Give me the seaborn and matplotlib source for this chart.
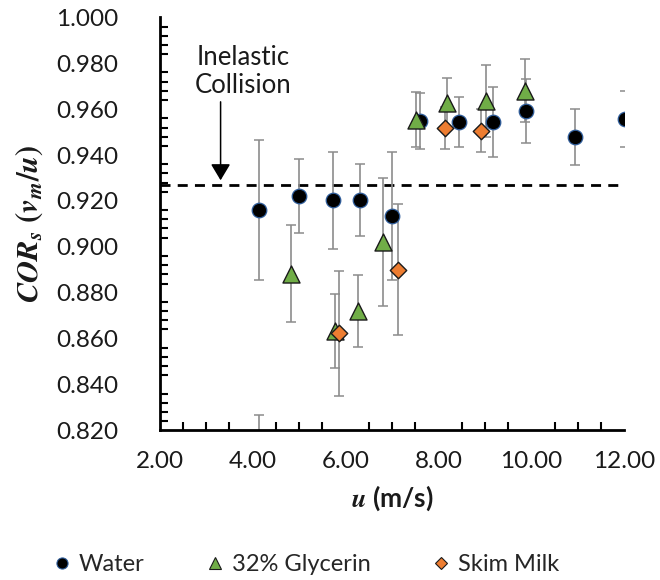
import matplotlib
matplotlib.use("Agg")
import matplotlib.pyplot as plt
from matplotlib.lines import Line2D
from matplotlib.ticker import MultipleLocator, FormatStrFormatter
import numpy as np
import pandas as pd
import seaborn as sns

# Impact speed u (m/s), coefficient of restitution and its spread, per fluid
water_u = [4.13, 5.00, 5.74, 6.30, 7.00, 7.60, 8.44, 9.17, 9.89, 10.93, 12.01]
water_cor = [0.916, 0.9222, 0.9202, 0.9204, 0.9135, 0.9548, 0.9543, 0.9545, 0.9592, 0.948, 0.9557]
water_err = [0.0306, 0.016, 0.021, 0.0157, 0.028, 0.0122, 0.011, 0.0153, 0.0138, 0.0122, 0.0124]

glyc_u = [4.13, 4.82, 5.77, 6.27, 6.80, 7.51, 8.19, 9.02, 9.87]
glyc_cor = [0.806, 0.8883, 0.8633, 0.8719, 0.9021, 0.9553, 0.9626, 0.9636, 0.9681]
glyc_err = [0.0206, 0.021, 0.016, 0.0157, 0.028, 0.012, 0.0112, 0.0157, 0.0138]

milk_u = [5.86, 7.12, 8.15, 8.92]
milk_cor = [0.8623, 0.8901, 0.9517, 0.9506]
milk_err = [0.0273, 0.0285, 0.0091, 0.0094]

inelastic_cor = 0.927

series_names = ["Water", "32% Glycerin", "Skim Milk"]

sns.set_theme(style="white")
plt.rcParams["font.family"] = ["Lato", "DejaVu Sans"]
plt.rcParams["mathtext.fontset"] = "stix"

df = pd.concat([
    pd.DataFrame({"u": water_u, "cor": water_cor, "err": water_err, "fluid": series_names[0]}),
    pd.DataFrame({"u": glyc_u, "cor": glyc_cor, "err": glyc_err, "fluid": series_names[1]}),
    pd.DataFrame({"u": milk_u, "cor": milk_cor, "err": milk_err, "fluid": series_names[2]}),
], ignore_index=True)

styles = {
    "Water": dict(marker="o", color="#000000", edge="#2E5C9A", s=110, lw=0.9),
    "32% Glycerin": dict(marker="^", color="#70AD47", edge="#1a1a1a", s=150, lw=1.0),
    "Skim Milk": dict(marker="D", color="#ED7D31", edge="#1a1a1a", s=70, lw=1.0),
}

fig = plt.figure(figsize=(6.6, 5.8), dpi=100)
ax = fig.add_axes([0.242, 0.258, 0.704, 0.712])

# error bars behind the markers
for name in series_names:
    sub = df[df["fluid"] == name]
    ax.errorbar(sub["u"], sub["cor"], yerr=sub["err"], fmt="none",
                ecolor="#8c8c8c", elinewidth=1.2, capsize=3.8, capthick=1.1,
                zorder=2)

for i, name in enumerate(series_names):
    st = styles[name]
    sns.scatterplot(data=df[df["fluid"] == name], x="u", y="cor", ax=ax,
                    marker=st["marker"], color=st["color"], edgecolor=st["edge"],
                    linewidth=st["lw"], s=st["s"], zorder=3 + i, legend=False)

# reference line for a perfectly inelastic collision
ax.axhline(inelastic_cor, color="black", lw=2.0, linestyle=(0, (3.6, 2.6)), zorder=1)
ax.annotate("", xy=(3.31, 0.929), xytext=(3.31, 0.9632),
            arrowprops=dict(arrowstyle="-|>,head_length=0.5,head_width=0.3",
                            mutation_scale=20, color="black", lw=1.1,
                            shrinkA=0, shrinkB=0))
ax.text(3.80, 0.9765, "Inelastic\nCollision", ha="center", va="center",
        fontsize=18.5, linespacing=1.15, color="#1a1a1a")

ax.set_xlim(2, 12)
ax.set_ylim(0.82, 1.0)
ax.xaxis.set_major_locator(MultipleLocator(2))
ax.xaxis.set_minor_locator(MultipleLocator(0.5))
ax.yaxis.set_major_locator(MultipleLocator(0.02))
ax.yaxis.set_minor_locator(MultipleLocator(0.004))
ax.xaxis.set_major_formatter(FormatStrFormatter("%.2f"))
ax.yaxis.set_major_formatter(FormatStrFormatter("%.3f"))

for side in ["top", "right"]:
    ax.spines[side].set_visible(False)
for side in ["left", "bottom"]:
    ax.spines[side].set_linewidth(2.0)
    ax.spines[side].set_color("black")

ax.tick_params(which="major", direction="inout", length=14, width=2.0,
               colors="black", labelsize=17.5, labelcolor="#1a1a1a")
ax.tick_params(axis="y", which="major", pad=23)
ax.tick_params(axis="x", which="major", pad=8)
ax.tick_params(which="minor", direction="in", length=6, width=1.5,
               colors="black", bottom=True, left=True)

ax.set_xlabel(r"$\mathbfit{u}$ (m/s)", fontsize=19, fontweight="bold",
              labelpad=8, color="#1a1a1a")
ax.set_ylabel(r"$\mathbfit{COR}_{\mathbfit{s}}\ \mathbf{(}\mathbfit{v}_{\mathbfit{m}}\mathbf{/}\mathbfit{u}\mathbf{)}$",
              fontsize=22, labelpad=8, color="#1a1a1a")
ax.grid(False)

handles = [
    Line2D([], [], ls="none", marker=styles[n]["marker"], markerfacecolor=styles[n]["color"],
           markeredgecolor=styles[n]["edge"], markeredgewidth=0.8,
           markersize={"Water": 8, "32% Glycerin": 9, "Skim Milk": 6.5}[n])
    for n in series_names
]
fig.legend(handles, series_names, loc="center", bbox_to_anchor=(0.465, 0.026),
           ncol=3, frameon=False, fontsize=17, handlelength=0.6, handletextpad=0.4,
           columnspacing=2.7)

fig.savefig("out.png", dpi=100)
